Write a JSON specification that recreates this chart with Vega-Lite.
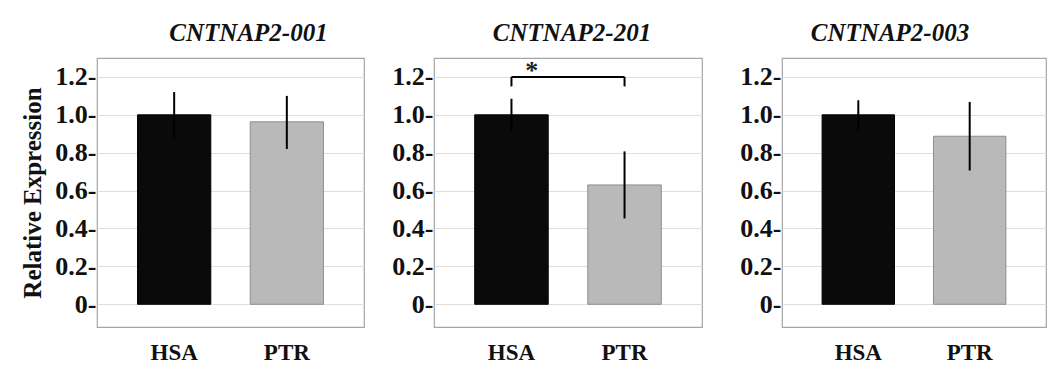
{
  "$schema": "https://vega.github.io/schema/vega-lite/v6.json",
  "padding": {"top": 20, "left": 20, "right": 0, "bottom": 0},
  "background": "white",
  "spacing": 26,
  "datasets": {
    "bars": [
      {"panel": "001", "group": "HSA", "value": 1.0, "lo": 0.87, "hi": 1.12},
      {"panel": "001", "group": "PTR", "value": 0.963, "lo": 0.82, "hi": 1.10},
      {"panel": "201", "group": "HSA", "value": 1.0, "lo": 0.917, "hi": 1.085},
      {"panel": "201", "group": "PTR", "value": 0.63, "lo": 0.453, "hi": 0.807},
      {"panel": "003", "group": "HSA", "value": 1.0, "lo": 0.919, "hi": 1.077},
      {"panel": "003", "group": "PTR", "value": 0.887, "lo": 0.706, "hi": 1.068}
    ],
    "bracket": [
      {"group": "HSA", "group2": "PTR", "top": 1.2, "bottom": 1.15, "label": "*", "ly": 1.232}
    ]
  },
  "config": {
    "font": "Liberation Serif",
    "view": {"stroke": "#a6a6a6", "strokeWidth": 1.2},
    "axisY": {
      "values": [0, 0.2, 0.4, 0.6, 0.8, 1.0, 1.2],
      "labelExpr": "datum.value == 0 ? '0-' : format(datum.value, '.1f') + '-'",
      "labelFont": "Liberation Serif",
      "labelFontSize": 26,
      "labelFontWeight": "bold",
      "labelColor": "#111",
      "labelPadding": 1,
      "ticks": false,
      "domain": false,
      "grid": true,
      "gridColor": "#dedede",
      "gridWidth": 1.2,
      "titleFont": "Liberation Serif",
      "titleFontSize": 25,
      "titleFontWeight": "bold",
      "titleColor": "#111",
      "titlePadding": 9
    },
    "axisX": {
      "title": null,
      "labelAngle": 0,
      "labelFont": "Liberation Serif",
      "labelFontSize": 23,
      "labelFontWeight": "bold",
      "labelColor": "#111",
      "labelPadding": 14,
      "ticks": false,
      "domain": false,
      "grid": false
    },
    "title": {
      "font": "Liberation Serif",
      "fontSize": 25,
      "fontWeight": "bold",
      "fontStyle": "italic",
      "color": "#111",
      "offset": 12,
      "anchor": "middle"
    }
  },
  "hconcat": [
    {
      "width": 267,
      "height": 269,
      "title": {"text": "CNTNAP2-001", "dx": 18},
      "data": {"name": "bars"},
      "transform": [{"filter": "datum.panel == '001'"}],
      "encoding": {
        "x": {"field": "group", "type": "nominal", "sort": ["HSA", "PTR"], "scale": {"paddingInner": 0.35, "paddingOuter": 0.36}},
        "y": {"type": "quantitative"}
      },
      "layer": [
        {
          "mark": {"type": "bar", "strokeWidth": 1},
          "encoding": {
            "y": {"field": "value", "type": "quantitative", "title": "Relative Expression", "scale": {"domain": [-0.12, 1.3], "nice": false, "zero": false}},
            "color": {"field": "group", "type": "nominal", "scale": {"domain": ["HSA", "PTR"], "range": ["#0a0a0a", "#b9b9b9"]}, "legend": null},
            "stroke": {"field": "group", "type": "nominal", "scale": {"domain": ["HSA", "PTR"], "range": ["#000000", "#8e8e8e"]}, "legend": null}
          }
        },
        {
          "mark": {"type": "rule", "color": "#000", "strokeWidth": 2},
          "encoding": {
            "y": {"field": "lo", "type": "quantitative"},
            "y2": {"field": "hi"}
          }
        }
      ]
    },
    {
      "spacing": 36,
      "hconcat": [
        {
          "width": 268,
          "height": 269,
          "title": {"text": "CNTNAP2-201", "dx": 4},
          "layer": [
            {
              "data": {"name": "bars"},
              "transform": [{"filter": "datum.panel == '201'"}],
              "mark": {"type": "bar", "strokeWidth": 1},
              "encoding": {
                "x": {"field": "group", "type": "nominal", "sort": ["HSA", "PTR"], "scale": {"paddingInner": 0.35, "paddingOuter": 0.36}},
                "y": {"field": "value", "type": "quantitative", "title": null, "scale": {"domain": [-0.12, 1.3], "nice": false, "zero": false}},
                "color": {"field": "group", "type": "nominal", "scale": {"domain": ["HSA", "PTR"], "range": ["#0a0a0a", "#b9b9b9"]}, "legend": null},
                "stroke": {"field": "group", "type": "nominal", "scale": {"domain": ["HSA", "PTR"], "range": ["#000000", "#8e8e8e"]}, "legend": null}
              }
            },
            {
              "data": {"name": "bars"},
              "transform": [{"filter": "datum.panel == '201'"}],
              "mark": {"type": "rule", "color": "#000", "strokeWidth": 2},
              "encoding": {
                "x": {"field": "group", "type": "nominal", "sort": ["HSA", "PTR"]},
                "y": {"field": "lo", "type": "quantitative"},
                "y2": {"field": "hi"}
              }
            },
            {
              "data": {"name": "bracket"},
              "mark": {"type": "rule", "color": "#000", "strokeWidth": 2},
              "encoding": {
                "x": {"field": "group", "type": "nominal"},
                "x2": {"field": "group2"},
                "y": {"field": "top", "type": "quantitative"}
              }
            },
            {
              "data": {"name": "bracket"},
              "mark": {"type": "rule", "color": "#000", "strokeWidth": 2},
              "encoding": {
                "x": {"field": "group", "type": "nominal"},
                "y": {"field": "bottom", "type": "quantitative"},
                "y2": {"field": "top"}
              }
            },
            {
              "data": {"name": "bracket"},
              "mark": {"type": "rule", "color": "#000", "strokeWidth": 2},
              "encoding": {
                "x": {"field": "group2", "type": "nominal"},
                "y": {"field": "bottom", "type": "quantitative"},
                "y2": {"field": "top"}
              }
            },
            {
              "data": {"name": "bracket"},
              "mark": {"type": "text", "font": "Liberation Serif", "fontSize": 26, "fontWeight": "bold", "color": "#222", "baseline": "middle", "align": "center"},
              "encoding": {
                "x": {"datum": "HSA", "type": "nominal"},
                "xOffset": {"value": 57},
                "y": {"field": "ly", "type": "quantitative"},
                "text": {"field": "label"}
              }
            }
          ]
        },
        {
          "width": 264,
          "height": 269,
          "title": {"text": "CNTNAP2-003", "dx": -24},
          "data": {"name": "bars"},
          "transform": [{"filter": "datum.panel == '003'"}],
          "encoding": {
            "x": {"field": "group", "type": "nominal", "sort": ["HSA", "PTR"], "scale": {"paddingInner": 0.35, "paddingOuter": 0.36}},
            "y": {"type": "quantitative"}
          },
          "layer": [
            {
              "mark": {"type": "bar", "strokeWidth": 1},
              "encoding": {
                "y": {"field": "value", "type": "quantitative", "title": null, "scale": {"domain": [-0.12, 1.3], "nice": false, "zero": false}},
                "color": {"field": "group", "type": "nominal", "scale": {"domain": ["HSA", "PTR"], "range": ["#0a0a0a", "#b9b9b9"]}, "legend": null},
                "stroke": {"field": "group", "type": "nominal", "scale": {"domain": ["HSA", "PTR"], "range": ["#000000", "#8e8e8e"]}, "legend": null}
              }
            },
            {
              "mark": {"type": "rule", "color": "#000", "strokeWidth": 2},
              "encoding": {
                "y": {"field": "lo", "type": "quantitative"},
                "y2": {"field": "hi"}
              }
            }
          ]
        }
      ]
    }
  ]
}
